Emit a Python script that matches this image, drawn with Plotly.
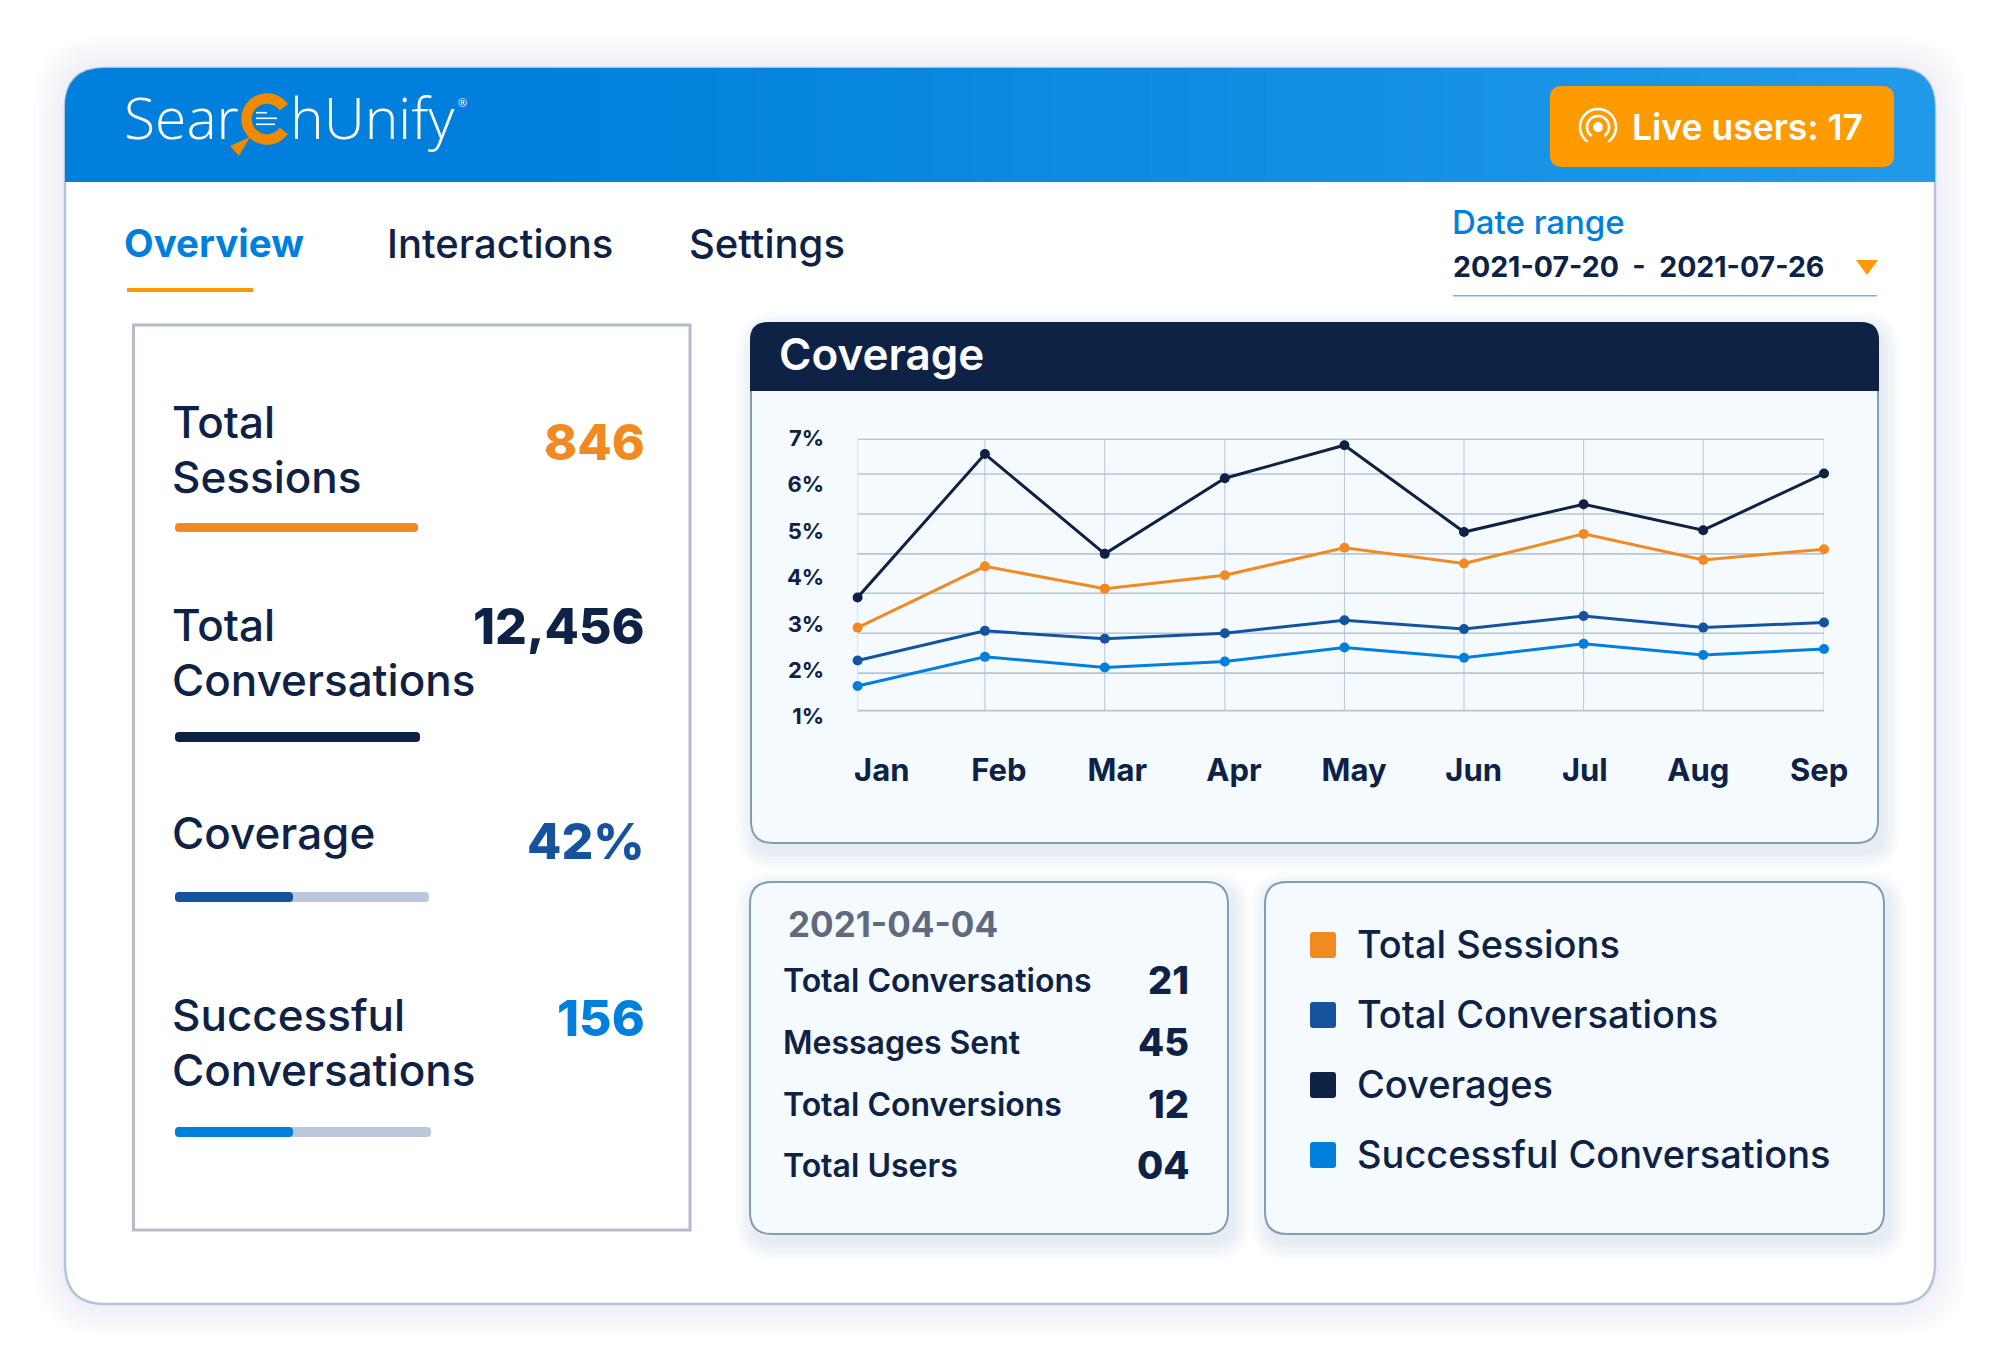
import math
import plotly.graph_objects as go

W, H = 2000, 1372
OFF = 8  # page body margin

NAVY = "#0E2245"
BLUE = "#0080DC"
DARK_BLUE = "#15539F"
ORANGE = "#F28A22"
AMBER = "#FF9A00"
FONT = "Inter"

# chart values (percent)
months = ["Jan", "Feb", "Mar", "Apr", "May", "Jun", "Jul", "Aug", "Sep"]
month_pos = [0, 1.054, 2.046, 3.04, 4.03, 5.02, 6.01, 7.0, 8.0]
label_pos = [0.20, 1.17, 2.15, 3.115, 4.11, 5.10, 6.02, 6.96, 7.96]
coverages = [3.57, 6.66, 4.51, 6.14, 6.85, 4.98, 5.58, 5.02, 6.24]
total_sessions = [2.92, 4.24, 3.76, 4.05, 4.64, 4.30, 4.94, 4.38, 4.61]
total_conversations = [2.21, 2.85, 2.68, 2.80, 3.08, 2.89, 3.17, 2.92, 3.03]
successful_conversations = [1.66, 2.29, 2.06, 2.19, 2.49, 2.27, 2.57, 2.33, 2.46]
y_ticks = [1, 2, 3, 4, 5, 6, 7]
y_labels = ["1%", "2%", "3%", "4%", "5%", "6%", "7%"]
grid_vals = [6.98, 6.23, 5.37, 4.51, 3.66, 2.80, 1.94, 1.13]

# side panel and table content
stat_values = ["846", "12,456", "42%", "156"]
stat_colors = [ORANGE, NAVY, DARK_BLUE, BLUE]
table_rows = ["Total Conversations", "Messages Sent", "Total Conversions", "Total Users"]
table_values = ["21", "45", "12", "04"]
legend_names = ["Total Sessions", "Total Conversations", "Coverages", "Successful Conversations"]
legend_colors = [ORANGE, DARK_BLUE, NAVY, BLUE]


def X(px):
    return (px - OFF) / (W - OFF)


def Y(px):
    return 1 - (px - OFF) / (H - OFF)


def rrect_path(x0, y0, x1, y1, r=0, rb=None):
    rb = r if rb is None else rb
    s = f"M{X(x0 + r)},{Y(y0)} L{X(x1 - r)},{Y(y0)} Q{X(x1)},{Y(y0)} {X(x1)},{Y(y0 + r)} "
    s += f"L{X(x1)},{Y(y1 - rb)} Q{X(x1)},{Y(y1)} {X(x1 - rb)},{Y(y1)} "
    s += f"L{X(x0 + rb)},{Y(y1)} Q{X(x0)},{Y(y1)} {X(x0)},{Y(y1 - rb)} "
    s += f"L{X(x0)},{Y(y0 + r)} Q{X(x0)},{Y(y0)} {X(x0 + r)},{Y(y0)} Z"
    return s


def arc_path(cx, cy, r, a0, a1, n=40):
    pts = []
    for i in range(n + 1):
        a = math.radians(a0 + (a1 - a0) * i / n)
        pts.append(f"{X(cx + r * math.cos(a))},{Y(cy + r * math.sin(a))}")
    return "M" + " L".join(pts)


shapes = []


def add_path(path, fill="rgba(0,0,0,0)", line=None, lw=0, opacity=1):
    shapes.append(dict(type="path", path=path, xref="paper", yref="paper", layer="below",
                       fillcolor=fill, opacity=opacity,
                       line=dict(color=line or "rgba(0,0,0,0)", width=lw)))


def add_box(x0, y0, x1, y1, r=0, rb=None, fill="rgba(0,0,0,0)", line=None, lw=0):
    add_path(rrect_path(x0, y0, x1, y1, r, rb), fill, line, lw)


def add_shadow(x0, y0, x1, y1, r, spread, step, dx, dy, color, alpha):
    for i in range(spread, 0, -step):
        add_path(rrect_path(x0 - i + dx, y0 - i + dy, x1 + i + dx, y1 + i + dy, r + i),
                 fill=color, opacity=alpha)


annotations = []


def text(x, y, s, size, color=NAVY, weight=500, anchor="left", family=FONT):
    annotations.append(dict(x=X(x), y=Y(y), xref="paper", yref="paper", text=s, showarrow=False,
                            xanchor=anchor, yanchor="middle", align=anchor,
                            font=dict(family=family, size=size, color=color, weight=weight)))


# outer card
add_shadow(65, 68, 1935, 1304, 40, 32, 4, 0, 0, "#1A3A80", 0.007)
add_box(65, 68, 1935, 1304, 40, fill="white", line="#B3C3DA", lw=2.5)

# header with left to right gradient
c0, c1 = (0, 128, 220), (32, 153, 232)
add_box(65, 68, 1935, 182, 40, 0, fill="rgb(%d,%d,%d)" % c1)
add_box(65, 68, 520, 182, 40, 0, fill="rgb(%d,%d,%d)" % c0)
add_box(470, 68, 520, 182, fill="rgb(%d,%d,%d)" % c0)
n_steps = 70
for i in range(n_steps):
    x0 = 520 + (1895 - 520) * i / n_steps
    x1 = min(x0 + (1895 - 520) / n_steps + 1, 1895)
    t = i / (n_steps - 1)
    col = "rgb(%d,%d,%d)" % tuple(round(a + (b - a) * t) for a, b in zip(c0, c1))
    add_box(x0, 68, x1, 182, fill=col)

# logo
add_path(arc_path(267, 119, 20.5, 35, 325), line="#F28A00", lw=10.5)
add_path(f"M{X(230)},{Y(146)} L{X(250)},{Y(137)} L{X(239)},{Y(156)} Z", fill="#F28A00")
for ly, lx in zip([112.7, 118.3, 124.3], [267, 277, 275]):
    add_path(f"M{X(256)},{Y(ly)} L{X(lx)},{Y(ly)}", line="white", lw=1.6)
text(122, 117, "Sear", 57, "white", 300, family="Open Sans")
text(288, 117, "hUnify", 57, "white", 300, family="Open Sans")
text(456, 103, "®", 11, "white", 400, family="Open Sans")

# live users button
add_box(1550, 86, 1894, 167, 12, fill=AMBER)
add_path(arc_path(1598, 127, 18, 125, 415), line="white", lw=2.6)
add_path(arc_path(1598, 127, 11, 125, 415), line="white", lw=2.6)
add_path(arc_path(1598, 127, 2.5, 0, 360, 16), fill="white", line="white", lw=5)
text(1630, 127, "Live users: 17", 35.5, "white", 600)

# tabs
text(122, 243.5, "Overview", 38.5, BLUE, 700)
text(385, 243.5, "Interactions", 40, NAVY, 500)
text(687, 243.5, "Settings", 40, NAVY, 500)
add_box(127, 288, 253, 292, fill=AMBER)

# date range
text(1450, 222, "Date range", 33, BLUE, 500)
text(1451, 266, "2021-07-20  -  2021-07-26", 28.5, NAVY, 700)
add_path(f"M{X(1856)},{Y(260)} L{X(1878)},{Y(260)} L{X(1867)},{Y(275)} Z", fill=AMBER)
add_path(f"M{X(1453)},{Y(295.7)} L{X(1877)},{Y(295.7)}", line="#7FAEE6", lw=1.5)

# left panel
add_box(133.5, 325, 690, 1230, line="#B4BDC9", lw=3)
panel_text = [("Total", 422), ("Sessions", 477), ("Total", 625), ("Conversations", 680),
              ("Coverage", 833), ("Successful", 1015), ("Conversations", 1070)]
for s, y in panel_text:
    text(170, y, s, 44, NAVY, 500)
for s, y, c, in zip(stat_values, [442, 626, 841, 1018], stat_colors):
    text(647, y, s, 50, c, 800, "right")
add_box(175, 523, 418, 532, 4, fill=ORANGE)
add_box(175, 732, 420, 742, 4, fill=NAVY)
add_box(175, 892, 429, 902, 4, fill="#BBC8DB")
add_box(175, 892, 293, 902, 4, 4, fill=DARK_BLUE)
add_box(175, 1127, 431, 1137, 4, fill="#BBC8DB")
add_box(175, 1127, 293, 1137, 4, 4, fill=BLUE)

# coverage card
add_shadow(751, 322, 1878, 843, 20, 18, 3, 4, 8, "#4A6AA8", 0.02)
add_box(751, 380, 1878, 843, 0, 22, fill="#F5FAFF", line="#7FA0B4", lw=2)
add_box(750, 322, 1879, 391, 18, 0, fill=NAVY)
text(777, 353.5, "Coverage", 44, "white", 600)

# table and legend cards
add_shadow(750, 882, 1228, 1234, 20, 18, 3, 4, 8, "#4A6AA8", 0.02)
add_shadow(1265, 882, 1884, 1234, 20, 18, 3, 4, 8, "#4A6AA8", 0.02)
add_box(750, 882, 1228, 1234, 22, fill="#F5FAFF", line="#7FA0B4", lw=2)
add_box(1265, 882, 1884, 1234, 22, fill="#F5FAFF", line="#7FA0B4", lw=2)
text(786, 923.5, "2021-04-04", 35, "#5E6A7E", 700)
for s, v, y in zip(table_rows, table_values, [980, 1042, 1104, 1165]):
    text(781, y, s, 32, NAVY, 600)
    text(1191, y, v, 38, NAVY, 800, "right")
for s, c, y in zip(legend_names, legend_colors, [945, 1015, 1085, 1155]):
    add_box(1310, y - 13, 1336, y + 13, 3, fill=c)
    text(1355, y - 1, s, 38, NAVY, 500)

# chart gridlines follow the data axes
for v in grid_vals:
    shapes.append(dict(type="line", xref="x", yref="y", layer="below", x0=0, x1=8, y0=v, y1=v,
                       line=dict(color="#B7C4D4", width=1.6)))
for p in month_pos:
    shapes.append(dict(type="line", xref="x", yref="y", layer="below", x0=p, x1=p,
                       y0=grid_vals[-1], y1=grid_vals[0],
                       line=dict(color="#B7C4D4", width=1)))

fig = go.Figure()
series = [("Coverages", coverages, NAVY), ("Total Sessions", total_sessions, ORANGE),
          ("Total Conversations", total_conversations, DARK_BLUE),
          ("Successful Conversations", successful_conversations, BLUE)]
for name, vals, col in series:
    fig.add_trace(go.Scatter(x=month_pos, y=vals, name=name, mode="lines+markers",
                             line=dict(color=col, width=3), marker=dict(color=col, size=10),
                             cliponaxis=False, showlegend=False))

fig.update_layout(
    width=W - OFF, height=H - OFF, autosize=False,
    margin=dict(l=0, r=0, t=0, b=0, pad=0),
    paper_bgcolor="white", plot_bgcolor="rgba(0,0,0,0)",
    shapes=shapes, annotations=annotations,
    font=dict(family=FONT, color=NAVY),
)
tick_font = dict(family=FONT, color=NAVY, weight=700)
fig.update_xaxes(domain=[X(857.6), X(1824)], range=[0, 8], tickmode="array", automargin=False,
                 tickvals=label_pos, ticktext=months, showgrid=False, zeroline=False,
                 showline=False, ticks="outside", ticklen=26, tickcolor="rgba(0,0,0,0)",
                 tickangle=0, tickfont=dict(size=31, **tick_font))
fig.update_yaxes(domain=[Y(716.7), Y(438.3)], range=[1, 7], tickmode="array", automargin=False,
                 tickvals=y_ticks, ticktext=y_labels, showgrid=False, zeroline=False,
                 showline=False, ticks="outside", ticklen=28, tickcolor="rgba(0,0,0,0)",
                 tickfont=dict(size=22, **tick_font))

fig.write_html("out.html")
